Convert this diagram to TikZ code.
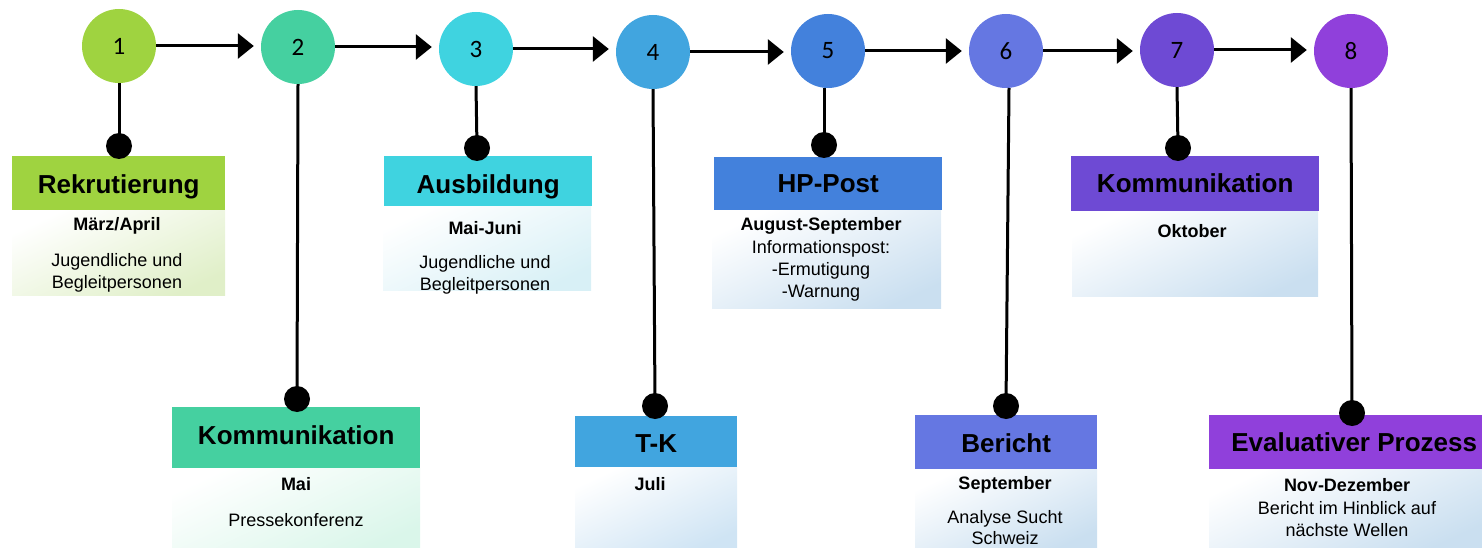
\documentclass[tikz,border=0pt]{standalone}
\usepackage{fontspec}
\setmainfont{Liberation Sans}
\newfontfamily\numfont{Carlito}
\usetikzlibrary{arrows.meta}
\definecolor{k1}{HTML}{9FD340}
\definecolor{k2}{HTML}{45D0A0}
\definecolor{k3}{HTML}{3FD3E0}
\definecolor{k4}{HTML}{41A5DF}
\definecolor{k5}{HTML}{4381DC}
\definecolor{k6}{HTML}{6577E2}
\definecolor{k7}{HTML}{6E4AD4}
\definecolor{k8}{HTML}{9040DB}
\definecolor{g1}{HTML}{E0EFC8}
\definecolor{g2}{HTML}{DAF6EA}
\definecolor{g3}{HTML}{D8F0F6}
\definecolor{g4}{HTML}{CFE4F4}
\definecolor{g5}{HTML}{CADFF0}
\begin{document}
\begin{tikzpicture}[x=1pt,y=-1pt,
  stepcircle/.style={circle, inner sep=0, minimum size=74, fill=#1,
     font=\numfont\fontsize{25}{30}\selectfont},
  dotnode/.style={circle, inner sep=0, minimum size=26, fill=black},
  hdr/.style={rectangle, inner sep=0, anchor=north west, fill=#1,
     text height=19, text depth=0,
     font=\fontsize{26}{30}\selectfont\bfseries},
  bdy/.style={rectangle, inner sep=0, anchor=north west,
     top color=white, bottom color=#1, shading angle=25},
  sub/.style={font=\fontsize{18}{22}\selectfont\bfseries, align=center, inner sep=0},
  txt/.style={font=\fontsize{18}{22}\selectfont, align=center, inner sep=0},
  link/.style={line width=3pt, -{Triangle[length=16pt,width=25pt]}, shorten >=7pt},
  stem/.style={line width=3pt}]
\useasboundingbox (0,0) rectangle (1482,548);

% circles
\node[stepcircle=k1] (c1) at (119,46) {1};
\node[stepcircle=k2] (c2) at (298,47) {2};
\node[stepcircle=k3] (c3) at (476,49) {3};
\node[stepcircle=k4] (c4) at (653,52) {4};
\node[stepcircle=k5] (c5) at (828,51) {5};
\node[stepcircle=k6] (c6) at (1006,51) {6};
\node[stepcircle=k7] (c7) at (1177,50) {7};
\node[stepcircle=k8] (c8) at (1351,51) {8};

% arrows
\foreach \a/\b in {c1/c2,c2/c3,c3/c4,c4/c5,c5/c6,c6/c7,c7/c8}
  \draw[link] (\a.east) -- (\a.east -| \b.west);

% bodies
\node[bdy=g1, minimum width=213, minimum height=85] (b1) at (12,210) {};
\node[bdy=g2, minimum width=248, minimum height=82] (b2) at (172,468) {};
\node[bdy=g3, minimum width=208, minimum height=84] (b3) at (383,206) {};
\node[bdy=g4, minimum width=162, minimum height=83] (b4) at (575,467) {};
\node[bdy=g5, minimum width=229, minimum height=98] (b5) at (712,210) {};
\node[bdy=g5, minimum width=182, minimum height=81] (b6) at (915,469) {};
\node[bdy=g5, minimum width=246, minimum height=85] (b7) at (1072,211) {};
\node[bdy=g5, minimum width=273, minimum height=81] (b8) at (1209,469) {};

% headers
\node[hdr=k1, minimum width=213, minimum height=54, text height=20] (h1) at (12,156) {Rekrutierung};
\node[hdr=k2, minimum width=248, minimum height=61, text height=13] (h2) at (172,407) {Kommunikation};
\node[hdr=k3, minimum width=208, minimum height=50, text height=25] (h3) at (384,156) {Ausbildung};
\node[hdr=k4, minimum width=162, minimum height=51, text height=21] (h4) at (575,416) {T-K};
\node[hdr=k5, minimum width=228, minimum height=53, text height=17] (h5) at (714,157) {HP-Post};
\node[hdr=k6, minimum width=182, minimum height=54, text height=20] (h6) at (915,415) {Bericht};
\node[hdr=k7, minimum width=248, minimum height=55, text height=17] (h7) at (1071,156) {Kommunikation};
\node[hdr=k8, minimum width=273, minimum height=54, text height=18] (h8) at (1209,415) {\hspace*{17pt}Evaluativer Prozess};

% dots
\node[dotnode] (d1) at (119,146) {};
\node[dotnode] (d2) at (297,399) {};
\node[dotnode] (d3) at (477,148) {};
\node[dotnode] (d4) at (655,406) {};
\node[dotnode] (d5) at (824,145) {};
\node[dotnode] (d6) at (1006,406) {};
\node[dotnode] (d7) at (1178,148) {};
\node[dotnode] (d8) at (1352,413) {};

% stems
\draw[stem] (c1.south) -- (d1.center);
\draw[stem] (c2.south) -- (d2.center);
\draw[stem] (c3.south) -- (d3.center);
\draw[stem] (c4.south) -- (d4.center);
\draw[stem] (824,88) -- (d5.center);
\draw[stem] (1009,88) -- (d6.center);
\draw[stem] (c7.south) -- (d7.center);
\draw[stem] (c8.south) -- (d8.center);

% body texts
\node[sub] (s1) at (117,226) {März/April};
\node[txt] (t1) at (117,273) {Jugendliche und\\Begleitpersonen};
\node[sub] (s2) at (296,484) {Mai};
\node[txt] (t2) at (296,520) {Pressekonferenz};
\node[sub] (s3) at (485,228) {Mai-Juni};
\node[txt] (t3) at (485,275) {Jugendliche und\\Begleitpersonen};
\node[sub] (s4) at (650,484) {Juli};
\node[sub] (s5) at (821,226) {August-September};
\node[txt] (t5) at (821,271) {Informationspost:\\-Ermutigung\\-Warnung};
\node[sub] (s6) at (1005,485) {September};
\node[txt, font=\fontsize{18}{21}\selectfont] (t6) at (1005,528) {Analyse Sucht\\Schweiz};
\node[sub] (s7) at (1192,231) {Oktober};
\node[sub] (s8) at (1347,485) {Nov-Dezember};
\node[txt] (t8) at (1347,519) {Bericht im Hinblick auf\\nächste Wellen};
\end{tikzpicture}
\end{document}
